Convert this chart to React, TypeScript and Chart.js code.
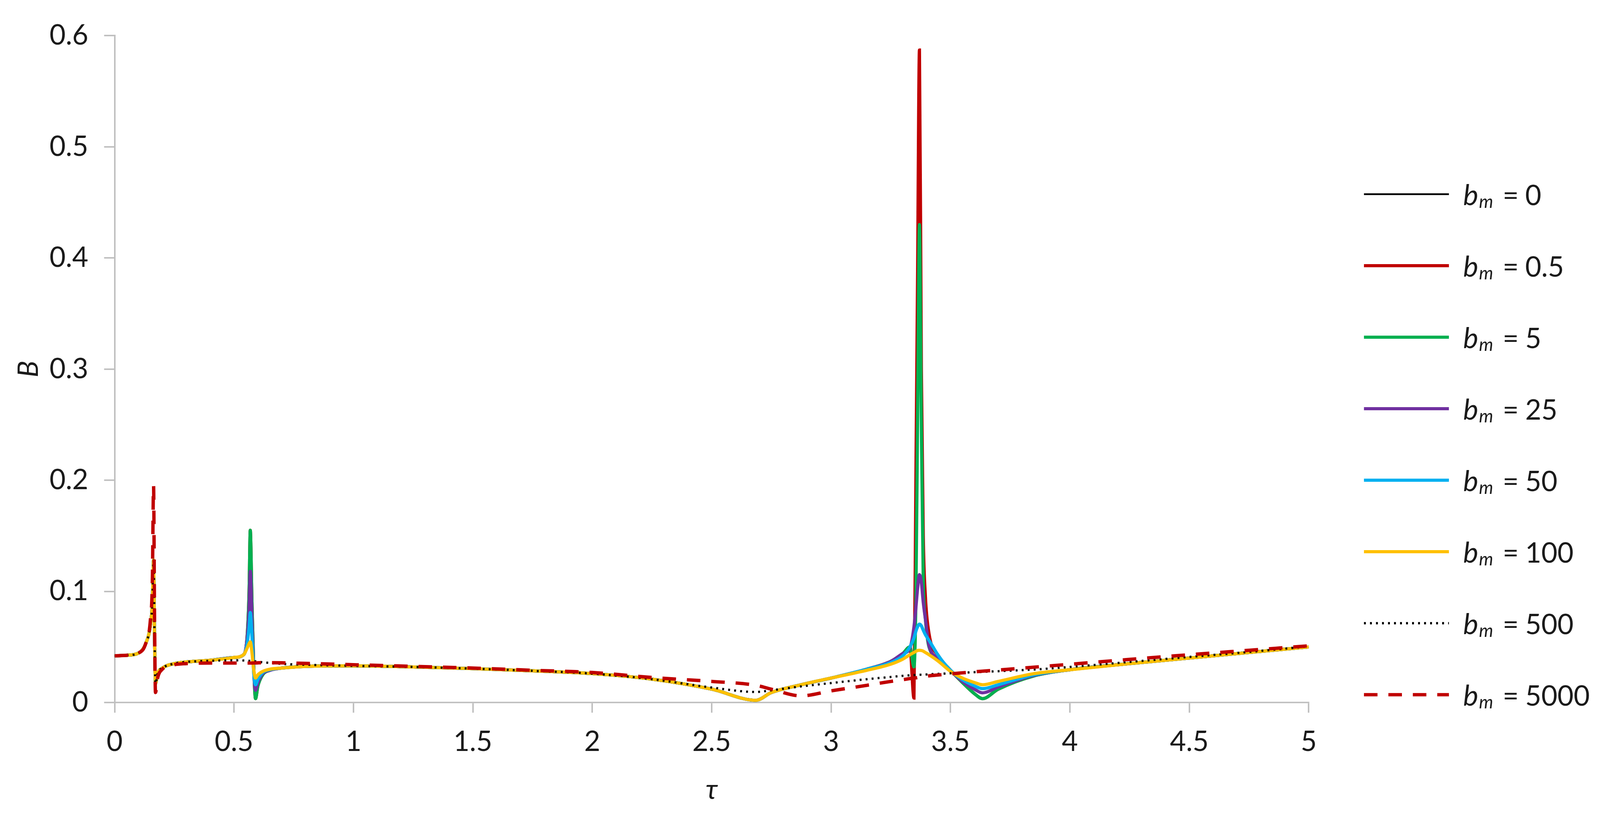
import { useEffect, useRef } from "react";
import { Chart, registerables } from "chart.js";

Chart.register(...registerables);

const FONT = "Lato, 'Open Sans', 'DejaVu Sans', sans-serif";

// tau sample points (shared by all series)
const TAU = [
  0, 0.05, 0.1, 0.13, 0.15, 0.158, 0.163, 0.167, 0.171, 0.18, 0.2, 0.25, 0.3, 0.4, 0.5,
  0.54, 0.555, 0.563, 0.568, 0.575, 0.582, 0.59, 0.6, 0.62, 0.65, 0.7, 0.8,
  1, 1.25, 1.5, 1.75, 2, 2.25, 2.5,
  2.685, 2.75, 2.875, 3, 3.15, 3.25, 3.3, 3.33,
  3.347, 3.355, 3.362, 3.37, 3.378, 3.386, 3.395, 3.41, 3.45, 3.5,
  3.55, 3.6, 3.634, 3.7, 3.85, 4, 4.25, 4.5, 4.75, 5,
];

const B_0 = [
  0.042, 0.0425, 0.0445, 0.053, 0.07, 0.09, 0.128, 0.06, 0.017, 0.026, 0.031, 0.035, 0.0365, 0.038, 0.0405,
  0.043, 0.06, 0.1, 0.155, 0.09, 0.035, 0.0035, 0.015, 0.025, 0.029, 0.031, 0.0325,
  0.033, 0.032, 0.0305, 0.0285, 0.026, 0.021, 0.012,
  0.002, 0.009, 0.016, 0.022, 0.03, 0.037, 0.044, 0.05,
  0.004, 0.2, 0.38, 0.587, 0.3, 0.15, 0.095, 0.062, 0.042, 0.029,
  0.018, 0.008, 0.0035, 0.012, 0.024, 0.0295, 0.035, 0.04, 0.045, 0.05,
];

const B_05 = [
  0.042, 0.0425, 0.0445, 0.053, 0.07, 0.09, 0.128, 0.06, 0.017, 0.026, 0.031, 0.035, 0.0365, 0.038, 0.0405,
  0.043, 0.06, 0.1, 0.155, 0.09, 0.035, 0.0035, 0.015, 0.025, 0.029, 0.031, 0.0325,
  0.033, 0.032, 0.0305, 0.0285, 0.026, 0.021, 0.012,
  0.002, 0.009, 0.016, 0.022, 0.03, 0.037, 0.044, 0.05,
  0.004, 0.2, 0.38, 0.587, 0.3, 0.15, 0.095, 0.062, 0.042, 0.029,
  0.018, 0.008, 0.0035, 0.012, 0.024, 0.0295, 0.035, 0.04, 0.045, 0.05,
];

const B_5 = [
  0.042, 0.0425, 0.0445, 0.053, 0.07, 0.09, 0.128, 0.06, 0.017, 0.026, 0.031, 0.035, 0.0365, 0.038, 0.0405,
  0.043, 0.06, 0.1, 0.155, 0.09, 0.035, 0.0035, 0.015, 0.025, 0.029, 0.031, 0.0325,
  0.033, 0.032, 0.0305, 0.0285, 0.026, 0.021, 0.012,
  0.002, 0.009, 0.016, 0.022, 0.03, 0.037, 0.044, 0.05,
  0.032, 0.09, 0.25, 0.43, 0.25, 0.11, 0.075, 0.05, 0.04, 0.029,
  0.018, 0.008, 0.0035, 0.012, 0.024, 0.0295, 0.035, 0.04, 0.045, 0.05,
];

const B_25 = [
  0.042, 0.0425, 0.0445, 0.053, 0.07, 0.09, 0.128, 0.06, 0.017, 0.026, 0.031, 0.035, 0.0365, 0.038, 0.0405,
  0.043, 0.058, 0.085, 0.118, 0.075, 0.03, 0.011, 0.018, 0.026, 0.029, 0.031, 0.0325,
  0.033, 0.032, 0.0305, 0.0285, 0.026, 0.021, 0.012,
  0.002, 0.009, 0.016, 0.022, 0.03, 0.037, 0.044, 0.049,
  0.068, 0.085, 0.102, 0.115, 0.108, 0.09, 0.075, 0.051, 0.04, 0.029,
  0.019, 0.012, 0.0087, 0.014, 0.0245, 0.0295, 0.035, 0.04, 0.045, 0.05,
];

const B_50 = [
  0.042, 0.0425, 0.0445, 0.053, 0.07, 0.09, 0.128, 0.06, 0.017, 0.026, 0.031, 0.035, 0.0365, 0.038, 0.0405,
  0.043, 0.053, 0.068, 0.081, 0.06, 0.028, 0.016, 0.021, 0.027, 0.0295, 0.031, 0.0325,
  0.033, 0.032, 0.0305, 0.0285, 0.026, 0.021, 0.012,
  0.002, 0.009, 0.016, 0.022, 0.03, 0.036, 0.042, 0.05,
  0.058, 0.064, 0.068, 0.0705, 0.069, 0.065, 0.061, 0.056, 0.042, 0.029,
  0.0205, 0.015, 0.0125, 0.016, 0.025, 0.0295, 0.035, 0.04, 0.045, 0.05,
];

const B_100 = [
  0.042, 0.0425, 0.0445, 0.053, 0.07, 0.09, 0.128, 0.06, 0.017, 0.026, 0.031, 0.035, 0.0365, 0.038, 0.0405,
  0.043, 0.049, 0.053, 0.0545, 0.045, 0.03, 0.022, 0.025, 0.028, 0.03, 0.031, 0.0325,
  0.033, 0.032, 0.0305, 0.0285, 0.026, 0.021, 0.012,
  0.002, 0.009, 0.016, 0.022, 0.029, 0.0345, 0.039, 0.043,
  0.045, 0.046, 0.0468, 0.047, 0.0468, 0.0462, 0.045, 0.043, 0.037, 0.028,
  0.022, 0.018, 0.016, 0.019, 0.026, 0.0295, 0.035, 0.04, 0.045, 0.05,
];

const B_500 = [
  0.042, 0.0425, 0.0445, 0.053, 0.07, 0.09, 0.128, 0.06, 0.017, 0.026, 0.031, 0.035, 0.0365, 0.0375, 0.038,
  0.0378, 0.0376, 0.0375, 0.0374, 0.0373, 0.0371, 0.037, 0.0367, 0.0362, 0.0356, 0.0348, 0.034,
  0.033, 0.032, 0.0305, 0.0285, 0.026, 0.021, 0.0135,
  0.0095, 0.011, 0.0145, 0.0175, 0.021, 0.023, 0.024, 0.0245,
  0.0247, 0.0248, 0.0249, 0.025, 0.025, 0.0251, 0.0252, 0.0254, 0.0258, 0.0263,
  0.0268, 0.0273, 0.0276, 0.0282, 0.0297, 0.032, 0.0365, 0.041, 0.0455, 0.0505,
];

const B_5000 = [
  0.042, 0.0425, 0.0445, 0.053, 0.075, 0.11, 0.195, 0.08, 0.009, 0.022, 0.03, 0.034, 0.035, 0.0355, 0.0355,
  0.0355, 0.0355, 0.0355, 0.0355, 0.0355, 0.0356, 0.0356, 0.0357, 0.0358, 0.0358, 0.0357, 0.0352,
  0.034, 0.0325, 0.031, 0.029, 0.027, 0.0225, 0.019,
  0.0155, 0.012, 0.006, 0.0105, 0.0155, 0.019, 0.0205, 0.0215,
  0.022, 0.0222, 0.0225, 0.0227, 0.023, 0.0232, 0.0235, 0.024, 0.0248, 0.0258,
  0.0267, 0.0276, 0.0282, 0.0292, 0.0318, 0.0344, 0.0388, 0.043, 0.047, 0.051,
];

const BM_LABELS = ["0", "0.5", "5", "25", "50", "100", "500", "5000"];
const X_TICK_LABELS = ["0", "0.5", "1", "1.5", "2", "2.5", "3", "3.5", "4", "4.5", "5"];
const Y_TICK_LABELS = ["0", "0.1", "0.2", "0.3", "0.4", "0.5", "0.6"];

const VALUES = [B_0, B_05, B_5, B_25, B_50, B_100, B_500, B_5000];
const STYLES = [
  { color: "#000000", width: 4.5, dash: [] as number[] },
  { color: "#C00000", width: 8.5, dash: [] as number[] },
  { color: "#00B050", width: 8.5, dash: [] as number[] },
  { color: "#7030A0", width: 8.5, dash: [] as number[] },
  { color: "#00B0F0", width: 8.5, dash: [] as number[] },
  { color: "#FFC000", width: 8.5, dash: [] as number[] },
  { color: "#000000", width: 6, dash: [5, 11] },
  { color: "#C00000", width: 9, dash: [36, 29] },
];

// reference frame the layout was measured in
const REF_W = 4257;
const REF_H = 2091;

export default function App() {
  const ref = useRef<HTMLCanvasElement | null>(null);
  const W = window.innerWidth || REF_W;
  const H = window.innerHeight || REF_H;
  const sx = W / REF_W;
  const sy = H / REF_H;
  const k = Math.min(sx, sy);
  const cw = W - 16;
  const ch = H - 16;
  const px = (v: number) => v * sx - 8;
  const py = (v: number) => v * sy - 8;

  useEffect(() => {
    if (!ref.current) return;

    // legend drawn on the canvas so the label can have italic b with subscript m
    const sideLegend = {
      id: "sideLegend",
      afterDraw(chart: any) {
        const ctx = chart.ctx as CanvasRenderingContext2D;
        chart.data.datasets.forEach((ds: any, i: number) => {
          const y = py(497 + i * 183);
          ctx.save();
          ctx.strokeStyle = ds.borderColor;
          ctx.lineWidth = ds.borderWidth;
          ctx.setLineDash(ds.borderDash || []);
          ctx.beginPath();
          ctx.moveTo(px(3629), y);
          ctx.lineTo(px(3855), y);
          ctx.stroke();
          ctx.setLineDash([]);
          ctx.fillStyle = "#1a1a1a";
          ctx.textBaseline = "alphabetic";
          ctx.font = `italic ${76 * k}px ${FONT}`;
          ctx.fillText("b", px(3893), y + 28 * sy);
          ctx.font = `italic ${48 * k}px ${FONT}`;
          ctx.fillText("m", px(3935), y + 35 * sy);
          ctx.font = `${74 * k}px ${FONT}`;
          ctx.fillText("=", px(3998), y + 28 * sy);
          ctx.fillText(BM_LABELS[i], px(4058), y + 28 * sy);
          ctx.restore();
        });
      },
    };

    const chart = new Chart(ref.current, {
      type: "line",
      data: {
        datasets: VALUES.map((vals, i) => ({
          label: BM_LABELS[i],
          data: TAU.map((t, j) => ({ x: t, y: vals[j] })),
          borderColor: STYLES[i].color,
          borderWidth: STYLES[i].width * k,
          borderDash: STYLES[i].dash.map((d) => d * k),
          pointRadius: 0,
          fill: false,
          cubicInterpolationMode: "monotone" as const,
          order: VALUES.length - i,
        })),
      },
      options: {
        animation: false,
        responsive: true,
        maintainAspectRatio: false,
        layout: { padding: { left: 0, top: py(70), right: cw - px(3482), bottom: 0 } },
        plugins: { legend: { display: false }, tooltip: { enabled: false } },
        scales: {
          x: {
            type: "linear",
            min: 0,
            max: 5,
            afterFit: (s: any) => {
              s.height = ch - py(1798);
            },
            ticks: {
              stepSize: 0.5,
              padding: 32 * sy,
              color: "#1a1a1a",
              font: { family: FONT, size: 74 * k },
              callback: (_v: any, i: number) => X_TICK_LABELS[i],
            },
            grid: { drawOnChartArea: false, drawTicks: true, tickLength: 26 * sy, color: "#bfbfbf", lineWidth: 4 * k },
            border: { display: true, color: "#bfbfbf", width: 4 * k },
            title: {
              display: true,
              text: "τ",
              color: "#1a1a1a",
              font: { family: FONT, size: 74 * k, style: "italic" },
              padding: { top: 0, bottom: 18 * sy },
            },
          },
          y: {
            type: "linear",
            min: 0,
            max: 0.6,
            afterFit: (s: any) => {
              s.width = px(305);
            },
            ticks: {
              stepSize: 0.1,
              padding: 42 * sx,
              color: "#1a1a1a",
              font: { family: FONT, size: 74 * k },
              callback: (_v: any, i: number) => Y_TICK_LABELS[i],
            },
            grid: { drawOnChartArea: false, drawTicks: true, tickLength: 28 * sx, color: "#bfbfbf", lineWidth: 4 * k },
            border: { display: true, color: "#bfbfbf", width: 4 * k },
            title: {
              display: true,
              text: "B",
              color: "#1a1a1a",
              font: { family: FONT, size: 74 * k, style: "italic" },
              padding: { top: 24 * sx, bottom: 0 },
            },
          },
        },
      },
      plugins: [sideLegend],
    });
    return () => chart.destroy();
  }, []);

  return (
    <div style={{ position: "relative", width: cw + "px", height: ch + "px", overflow: "hidden" }}>
      <canvas ref={ref}></canvas>
    </div>
  );
}
